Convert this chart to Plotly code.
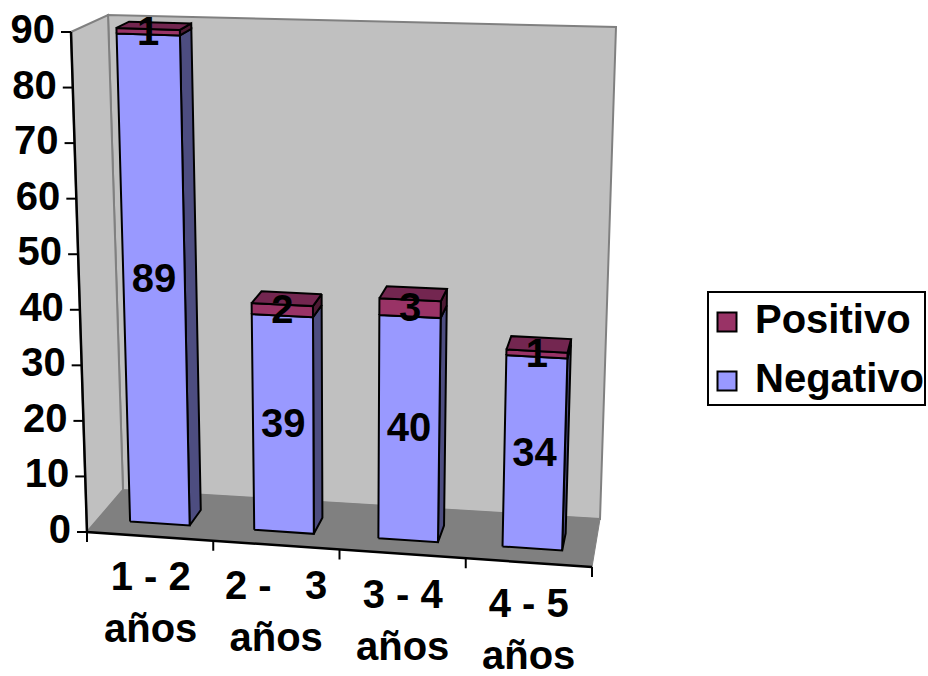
import plotly.graph_objects as go

# ---------------- data ----------------
categories = ["1 - 2<br>años", "2 -\u00a0\u00a0\u00a03<br>años", "3 - 4<br>años", "4 - 5<br>años"]
negativo = [89, 39, 40, 34]
positivo = [1, 2, 3, 1]
series_names = ["Positivo", "Negativo"]
y_ticks = [0, 10, 20, 30, 40, 50, 60, 70, 80, 90]
Y_MAX = 90

# ---------------- style ----------------
FONT = dict(family="Liberation Sans, Arial, sans-serif", size=40, color="black", weight="bold")
NEG = dict(front="#9999FF", side="#4D4D80", top="#7373BF")
POS = dict(front="#993366", side="#4D1A33", top="#732650")
WALL = "#C0C0C0"
WALL_EDGE = "#808080"
FLOOR = "#808080"

# 3D box projection (screen geometry of the chart's walls/floor), trilinear in (u, depth, height)
CORNERS = {
    (0, 0, 0): (87, 532), (1, 0, 0): (592, 567), (0, 1, 0): (123, 490), (1, 1, 0): (600, 519),
    (0, 0, 1): (71, 32), (1, 0, 1): (608, 50), (0, 1, 1): (108, 15), (1, 1, 1): (616, 27),
}


def proj(u, d, t):
    x = y = 0.0
    for (a, b, c), (px, py) in CORNERS.items():
        w = (u if a else 1 - u) * (d if b else 1 - d) * (t if c else 1 - t)
        x += w * px
        y += w * py
    return x, y


def poly(points, fill, line_color="black", lw=2):
    xs = [p[0] for p in points] + [points[0][0]]
    ys = [p[1] for p in points] + [points[0][1]]
    return go.Scatter(x=xs, y=ys, mode="lines", fill="toself", fillcolor=fill,
                      line=dict(color=line_color, width=lw), hoverinfo="skip",
                      showlegend=False)


fig = go.Figure()

# walls and floor
fig.add_trace(poly([proj(0, 1, 0), proj(1, 1, 0), proj(1, 1, 1), proj(0, 1, 1)], WALL, WALL_EDGE, 2))
fig.add_trace(poly([proj(0, 0, 0), proj(0, 1, 0), proj(0, 1, 1), proj(0, 0, 1)], WALL, WALL_EDGE, 2))
fig.add_trace(poly([proj(0, 0, 0), proj(1, 0, 0), proj(1, 1, 0), proj(0, 1, 0)], FLOOR, FLOOR, 1))

# axes lines
a0, a1 = proj(0, 0, 0), proj(0, 0, 1)
b1 = proj(1, 0, 0)
fig.add_trace(go.Scatter(x=[a1[0], a0[0], b1[0]], y=[a1[1], a0[1], b1[1]], mode="lines",
                         line=dict(color="black", width=2.5), hoverinfo="skip", showlegend=False))

# y ticks
tx, ty = [], []
lx, ly = [], []
for v in y_ticks:
    p = proj(0, 0, v / Y_MAX)
    tx += [p[0] - 10, p[0], None]
    ty += [p[1], p[1], None]
    lx.append(p[0] - 16)
    ly.append(p[1] + 1)
fig.add_trace(go.Scatter(x=tx, y=ty, mode="lines", line=dict(color="black", width=2),
                         hoverinfo="skip", showlegend=False))
fig.add_trace(go.Scatter(x=lx, y=ly, mode="text", text=[str(v) for v in y_ticks],
                         textposition="middle left", textfont=FONT, hoverinfo="skip", showlegend=False))

# x ticks at category boundaries
n = len(categories)
xx, xy = [], []
for k in range(n + 1):
    p = proj(k / n, 0, 0)
    xx += [p[0], p[0], None]
    xy += [p[1], p[1] + 10, None]
fig.add_trace(go.Scatter(x=xx, y=xy, mode="lines", line=dict(color="black", width=2),
                         hoverinfo="skip", showlegend=False))

# bars
BW = 0.48
D0, D1 = 0.3, 0.66
lab_x, lab_y, lab_t = [], [], []
for i in range(n):
    u0 = (i + (1 - BW) / 2) / n
    u1 = (i + (1 + BW) / 2) / n
    uc = (u0 + u1) / 2
    segs = [(0, negativo[i], NEG), (negativo[i], negativo[i] + positivo[i], POS)]
    for j, (v0, v1, col) in enumerate(segs):
        t0, t1 = v0 / Y_MAX, v1 / Y_MAX
        # right side face
        fig.add_trace(poly([proj(u1, D0, t0), proj(u1, D1, t0), proj(u1, D1, t1), proj(u1, D0, t1)], col["side"]))
        # front face
        fig.add_trace(poly([proj(u0, D0, t0), proj(u1, D0, t0), proj(u1, D0, t1), proj(u0, D0, t1)], col["front"]))
        if j == len(segs) - 1:
            fig.add_trace(poly([proj(u0, D0, t1), proj(u1, D0, t1), proj(u1, D1, t1), proj(u0, D1, t1)], col["top"]))
        c = proj(uc, D0, (t0 + t1) / 2)
        lab_x.append(c[0])
        lab_y.append(c[1] + 3)
        lab_t.append(str(v1 - v0))

fig.add_trace(go.Scatter(x=lab_x, y=lab_y, mode="text", text=lab_t, textposition="middle center",
                         textfont=FONT, hoverinfo="skip", showlegend=False))

# category labels
for i, cat in enumerate(categories):
    p = proj((i + 0.5) / n, 0, 0)
    fig.add_annotation(x=p[0], y=p[1] + 16, text=cat, showarrow=False, xanchor="center",
                       yanchor="top", font=FONT, align="center")

# legend (manual)
fig.add_shape(type="rect", xref="paper", yref="paper", x0=708 / 928, x1=925 / 928,
              y0=1 - 405 / 676, y1=1 - 292 / 676, line=dict(color="black", width=2), fillcolor="white",
              layer="below")
leg_colors = [POS["front"], NEG["front"]]
fig.add_trace(go.Scatter(x=[727, 727], y=[322, 381], mode="markers",
                         marker=dict(symbol="square", size=19, color=leg_colors,
                                     line=dict(color="black", width=2)),
                         hoverinfo="skip", showlegend=False))
fig.add_trace(go.Scatter(x=[755, 755], y=[323, 382], mode="text", text=series_names,
                         textposition="middle right", textfont=FONT,
                         hoverinfo="skip", showlegend=False))

fig.update_layout(
    width=928, height=676, margin=dict(l=0, r=0, t=0, b=0),
    paper_bgcolor="white", plot_bgcolor="white", showlegend=False,
    xaxis=dict(range=[0, 928], visible=False, fixedrange=True),
    yaxis=dict(range=[676, 0], visible=False, fixedrange=True),
)

fig.write_html("out.html")
